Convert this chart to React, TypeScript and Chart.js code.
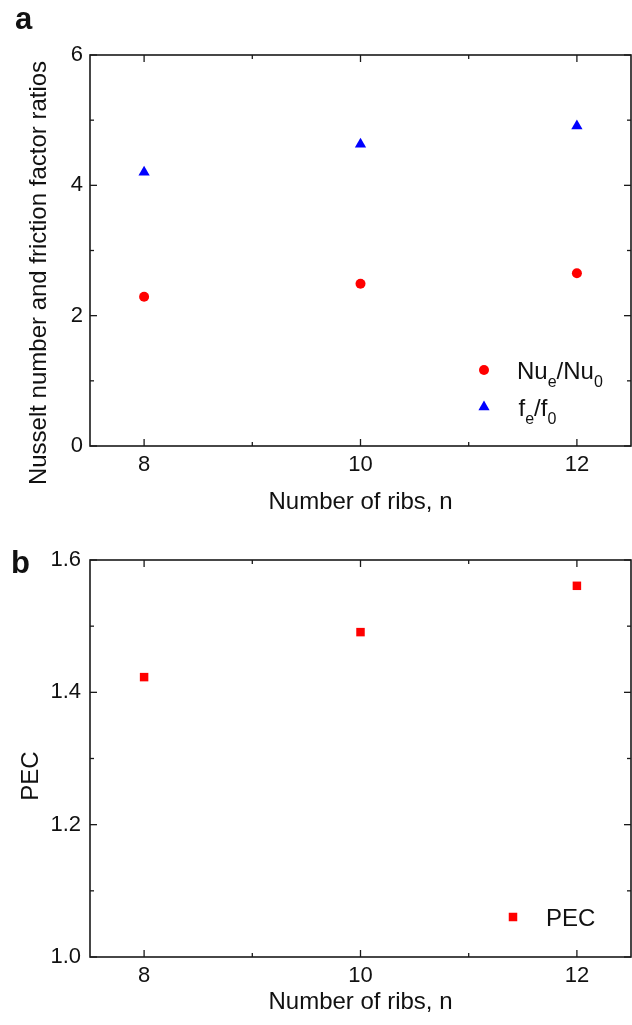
import React, { useEffect, useRef } from 'react';
import { Chart, registerables } from 'chart.js';

Chart.register(...registerables);

// ---------- data ----------
const ribs = [8, 10, 12];
const nuRatio = [2.29, 2.49, 2.65];
const fRatio = [4.2, 4.63, 4.91];
const pec = [1.423, 1.491, 1.561];

const xMajorTicks = [8, 10, 12];
const xMinorTicks = [9, 11];
const yTopMajor = [0, 2, 4, 6];
const yTopMinor = [1, 3, 5];
const yBotMajor = [1.0, 1.2, 1.4, 1.6];
const yBotMinor = [1.1, 1.3, 1.5];

const xTitle = 'Number of ribs, n';
const yTopTitle = 'Nusselt number and friction factor ratios';
const yBotTitle = 'PEC';

const FONT = "'Liberation Sans', Arial, Helvetica, sans-serif";
const INK = '#111111';
const RED = '#ff0000';
const BLUE = '#0000ff';

function frameTicksPlugin(xMajor: number[], xMinor: number[], yMajor: number[], yMinor: number[]) {
  return {
    id: 'frameTicks',
    afterDatasetsDraw(chart: any) {
      const { ctx, chartArea: a, scales } = chart;
      const xs = scales.x;
      const ys = scales.y;
      ctx.save();
      ctx.strokeStyle = '#1a1a1a';
      ctx.lineWidth = 1.6;
      ctx.strokeRect(a.left, a.top, a.right - a.left, a.bottom - a.top);
      ctx.lineWidth = 1.3;
      const line = (x1: number, y1: number, x2: number, y2: number) => {
        ctx.beginPath();
        ctx.moveTo(x1, y1);
        ctx.lineTo(x2, y2);
        ctx.stroke();
      };
      const xt = (vals: number[], len: number) =>
        vals.forEach((v) => {
          const px = xs.getPixelForValue(v);
          line(px, a.bottom, px, a.bottom - len);
          line(px, a.top, px, a.top + len);
        });
      const yt = (vals: number[], len: number) =>
        vals.forEach((v) => {
          const py = ys.getPixelForValue(v);
          line(a.left, py, a.left + len, py);
          line(a.right, py, a.right - len, py);
        });
      xt(xMajor, 7);
      xt(xMinor, 4);
      yt(yMajor, 7);
      yt(yMinor, 4);
      ctx.restore();
    },
  };
}

type PanelProps = {
  top: number;
  height: number;
  padTop: number;
  plotH: number;
  yMin: number;
  yMax: number;
  yMajor: number[];
  yMinor: number[];
  yFmt: (v: number) => string;
  yTickPad: number;
  xTitlePad: number;
  datasets: any[];
};

function Panel(p: PanelProps) {
  const ref = useRef<HTMLCanvasElement | null>(null);
  useEffect(() => {
    if (!ref.current) return;
    const chart = new Chart(ref.current, {
      type: 'scatter',
      data: { datasets: p.datasets },
      options: {
        responsive: false,
        animation: false,
        devicePixelRatio: 1,
        layout: { autoPadding: false, padding: { top: p.padTop, right: 1, left: 0, bottom: 0 } },
        plugins: { legend: { display: false }, tooltip: { enabled: false } },
        scales: {
          x: {
            type: 'linear',
            min: 7.5,
            max: 12.5,
            afterBuildTicks: (s: any) => {
              s.ticks = xMajorTicks.map((v) => ({ value: v }));
            },
            afterFit: (s: any) => {
              s.height = p.height - p.padTop - p.plotH;
              s.paddingLeft = 0;
              s.paddingRight = 0;
            },
            grid: { display: false, drawTicks: false },
            border: { display: false },
            ticks: {
              autoSkip: false,
              maxRotation: 0,
              padding: 6,
              color: INK,
              font: { family: FONT, size: 22 },
              callback: (v: any) => String(v),
            },
            title: {
              display: true,
              text: xTitle,
              color: INK,
              font: { family: FONT, size: 24, lineHeight: 1 },
              padding: { top: 0, bottom: p.xTitlePad },
            },
          },
          y: {
            type: 'linear',
            min: p.yMin,
            max: p.yMax,
            afterBuildTicks: (s: any) => {
              s.ticks = p.yMajor.map((v) => ({ value: v }));
            },
            afterFit: (s: any) => {
              s.width = 90;
              s.paddingTop = 0;
              s.paddingBottom = 0;
            },
            grid: { display: false, drawTicks: false },
            border: { display: false },
            ticks: {
              autoSkip: false,
              padding: p.yTickPad,
              color: INK,
              font: { family: FONT, size: 22 },
              callback: (v: any) => p.yFmt(Number(v)),
            },
            title: { display: false },
          },
        },
      },
      plugins: [frameTicksPlugin(xMajorTicks, xMinorTicks, p.yMajor, p.yMinor)],
    } as any);
    return () => chart.destroy();
  }, []);
  return (
    <canvas
      ref={ref}
      width={632}
      height={p.height}
      style={{ position: 'absolute', left: 0, top: p.top, width: 632, height: p.height, display: 'block' }}
    />
  );
}

const textBase: React.CSSProperties = {
  position: 'absolute',
  fontFamily: FONT,
  color: INK,
  whiteSpace: 'nowrap',
};

function Sub({ children }: { children: React.ReactNode }) {
  return <span style={{ fontSize: 16, position: 'relative', top: 8 }}>{children}</span>;
}

export default function App() {
  const topDatasets = [
    {
      label: 'Nu_e/Nu_0',
      data: ribs.map((x, i) => ({ x, y: nuRatio[i] })),
      pointStyle: 'circle',
      pointRadius: 5,
      backgroundColor: RED,
      borderWidth: 0,
    },
    {
      label: 'f_e/f_0',
      data: ribs.map((x, i) => ({ x, y: fRatio[i] })),
      pointStyle: 'triangle',
      pointRadius: 6.5,
      backgroundColor: BLUE,
      borderWidth: 0,
    },
  ];
  const botDatasets = [
    {
      label: 'PEC',
      data: ribs.map((x, i) => ({ x, y: pec[i] })),
      pointStyle: 'rect',
      pointRadius: 6,
      backgroundColor: RED,
      borderWidth: 0,
    },
  ];

  return (
    <div style={{ position: 'absolute', left: 0, top: 0, width: 632, height: 1025, background: '#fff', overflow: 'hidden' }}>
      <Panel
        top={0}
        height={520}
        padTop={55}
        plotH={391}
        yMin={0}
        yMax={6}
        yMajor={yTopMajor}
        yMinor={yTopMinor}
        yFmt={(v) => String(v)}
        yTickPad={7}
        xTitlePad={6}
        datasets={topDatasets}
      />
      <Panel
        top={520}
        height={505}
        padTop={40}
        plotH={397}
        yMin={1.0}
        yMax={1.6}
        yMajor={yBotMajor}
        yMinor={yBotMinor}
        yFmt={(v) => v.toFixed(1)}
        yTickPad={9}
        xTitlePad={11}
        datasets={botDatasets}
      />

      {/* panel letters */}
      <div style={{ ...textBase, left: 15, top: 3, fontSize: 31, lineHeight: '31px', fontWeight: 'bold' }}>a</div>
      <div style={{ ...textBase, left: 11, top: 547, fontSize: 31, lineHeight: '31px', fontWeight: 'bold' }}>b</div>

      {/* y titles */}
      <div
        style={{
          ...textBase,
          left: 38,
          top: 273,
          fontSize: 24,
          lineHeight: '24px',
          transform: 'translate(-50%, -50%) rotate(-90deg)',
        }}
      >
        {yTopTitle}
      </div>
      <div
        style={{
          ...textBase,
          left: 30,
          top: 776,
          fontSize: 24,
          lineHeight: '24px',
          transform: 'translate(-50%, -50%) rotate(-90deg)',
        }}
      >
        {yBotTitle}
      </div>

      {/* legend markers */}
      <svg width={632} height={1025} style={{ position: 'absolute', left: 0, top: 0, pointerEvents: 'none' }}>
        <circle cx={484} cy={370} r={5} fill={RED} />
        <polygon points="484,400.5 478.4,410.3 489.6,410.3" fill={BLUE} />
        <rect x={508.75} y={912.75} width={8.5} height={8.5} fill={RED} />
      </svg>
      {/* legend, top panel */}
      <div style={{ ...textBase, left: 517, top: 358.7, fontSize: 24, lineHeight: '24px' }}>
        Nu<Sub>e</Sub>/Nu<Sub>0</Sub>
      </div>
      <div style={{ ...textBase, left: 518.5, top: 395.7, fontSize: 24, lineHeight: '24px' }}>
        f<Sub>e</Sub>/f<Sub>0</Sub>
      </div>
      {/* legend, bottom panel */}
      <div style={{ ...textBase, left: 546, top: 905.7, fontSize: 24, lineHeight: '24px' }}>{yBotTitle}</div>
    </div>
  );
}
